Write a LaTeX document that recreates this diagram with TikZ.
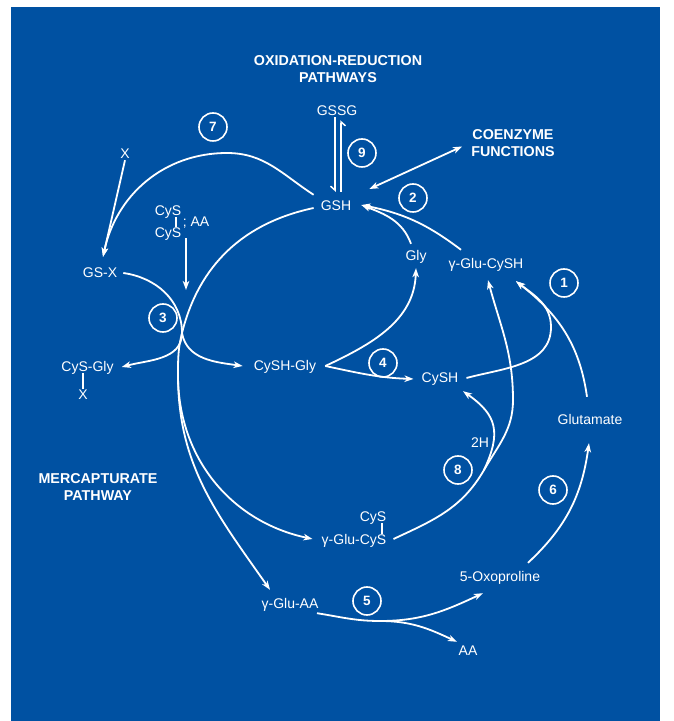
\documentclass[tikz,border=0pt]{standalone}
\usepackage{fontspec}
\setmainfont{Liberation Sans}
\usetikzlibrary{arrows.meta}
\definecolor{panelblue}{RGB}{0,81,162}
\tikzset{
  lab/.style={text=white,font=\fontsize{14}{16}\selectfont,inner sep=1pt,text height=10pt,text depth=0pt},
  head/.style={text=white,font=\fontsize{14.3}{17}\selectfont\bfseries,align=center,inner sep=1pt},
  num/.style={circle,draw=white,line width=1.6pt,minimum size=28pt,inner sep=0pt,text=white,font=\fontsize{13.5}{14}\selectfont\bfseries},
  flow/.style={draw=white,line width=1.8pt,->},
  redox/.style={draw=white,line width=1.5pt,-{Straight Barb[right,length=4pt,width=9pt]}},
  bond/.style={draw=white,line width=1.3pt}
}
\begin{document}
\begin{tikzpicture}[x=1pt,y=1pt,>={Stealth[length=9pt,width=6.5pt,inset=2.5pt]}]
    \useasboundingbox (0,0) rectangle (673,721);
    \fill[panelblue] (11,0) rectangle (660,714);
    \node[head] (oxred) at (338,651.5) {OXIDATION-REDUCTION\\PATHWAYS};
    \node[head] (coenz) at (513,577.5) {COENZYME\\FUNCTIONS};
    \node[head] (merc) at (98,234) {MERCAPTURATE\\PATHWAY};
    \node[lab] (gssg) at (337,610) {GSSG};
    \node[lab] (gsh) at (336,515) {GSH};
    \node[lab] (xtop) at (125,567) {X};
    \node[lab] (cysA) at (168,510) {CyS};
    \node[lab] (cysB) at (168,488) {CyS};
    \node[lab] (semiaa) at (196,499) {; AA};
    \node[lab] (gsx) at (100,448) {GS-X};
    \node[lab] (csg) at (87.5,354) {CyS-Gly};
    \node[lab] (xbot) at (83,326) {X};
    \node[lab] (cshg) at (285,355) {CySH-Gly};
    \node[lab] (gly) at (416,465) {Gly};
    \node[lab] (gcysh) at (486,457) {γ-Glu-CySH};
    \node[lab] (cysh) at (440,343) {CySH};
    \node[lab] (glu) at (590,301) {Glutamate};
    \node[lab] (twoh) at (480,278) {2H};
    \node[lab] (cysC) at (373,204) {CyS};
    \node[lab] (gcys) at (354,181) {γ-Glu-CyS};
    \node[lab] (oxo) at (500,144) {5-Oxoproline};
    \node[lab] (gaa) at (290,117) {γ-Glu-AA};
    \node[lab] (aa) at (468,70) {AA};
    \node[num] (n7) at (213,594) {7};
    \node[num] (n9) at (362,568) {9};
    \node[num] (n2) at (413,523) {2};
    \node[num] (n1) at (564,438) {1};
    \node[num] (n3) at (163,403) {3};
    \node[num] (n4) at (383,358) {4};
    \node[num] (n8) at (458,251) {8};
    \node[num] (n6) at (553,231) {6};
    \node[num] (n5) at (367,120) {5};
    \coordinate (top7) at (227,568);
    \coordinate (tch) at (182,388);
    \coordinate (lft) at (178,346);
    \coordinate (cysin) at (186,431);
    \coordinate (bulge1) at (551,394);
    \coordinate (spl8) at (484,251);
    \coordinate (rgt8) at (513,321);
    \coordinate (spl5) at (380,100);
    \draw[bond] ([xshift=8pt]cysA.south) -- ([xshift=8pt]cysB.north);
    \draw[bond] ([xshift=-4.5pt]csg.south) -- (xbot.north);
    \draw[bond] ([xshift=9pt]cysC.south) -- ([xshift=28pt]gcys.north);
    \draw[redox] ([xshift=-2pt]gssg.south) -- ([shift={(-1pt,8pt)}]gsh.north);
    \draw[redox] ([shift={(5pt,8pt)}]gsh.north) -- ([shift={(4pt,-3pt)}]gssg.south);
    \draw[flow,<->] ([shift={(17pt,17pt)}]gsh.east) -- ([shift={(-8pt,-3pt)}]coenz.west);
    \draw[flow] ([shift={(-6pt,5pt)}]gsh.north west) to[out=147,in=0] (top7) to[out=180,in=78] ([shift={(3pt,10pt)}]gsx.north);
    \draw[flow] (xtop.south) -- ([shift={(3pt,10pt)}]gsx.north);
    \draw[flow] ([shift={(18pt,1pt)}]cysB.south) -- (cysin);
    \draw[flow] ([xshift=5pt]gsx.east) to[out=-8,in=90] (tch) to[out=-90,in=15] ([xshift=7pt]csg.east);
    \draw[flow] ([shift={(-6pt,-2pt)}]gsh.west) to[out=192,in=76] (tch) to[out=-104,in=90] (lft) to[out=-90,in=168] ([shift={(-8pt,1pt)}]gcys.west);
    \draw[flow] (tch) to[out=-80,in=172] ([xshift=-10pt]cshg.west);
    \draw[flow] (lft) to[out=-90,in=125] ([shift={(-20pt,8pt)}]gaa.north);
    \draw[flow] ([shift={(-5pt,6pt)}]gly.north) to[out=110,in=-21] ([shift={(9pt,1pt)}]gsh.east);
    \draw[flow] ([shift={(-25pt,8pt)}]gcysh.north) to[bend right=13] ([shift={(9pt,1pt)}]gsh.east);
    \draw[flow] ([xshift=8pt]cshg.east) to[out=25,in=-92] ([yshift=-6pt]gly.south);
    \draw[flow] ([xshift=8pt]cshg.east) to[out=-12,in=178] ([shift={(-7pt,-1pt)}]cysh.west);
    \draw[flow] ([xshift=7pt]cysh.east) to[out=15,in=-90] (bulge1) to[out=90,in=-38] ([shift={(30pt,-11pt)}]gcysh.south);
    \draw[flow] ([shift={(-3pt,17pt)}]glu.north) to[out=98,in=-38] ([shift={(30pt,-11pt)}]gcysh.south);
    \draw[flow] ([shift={(6pt,1pt)}]gcys.east) to[out=25,in=240] (spl8) to[out=60,in=-90] (rgt8) to[out=90,in=-75] ([shift={(2pt,-10pt)}]gcysh.south);
    \draw[flow] (spl8) to[out=65,in=-35,looseness=1.3] ([shift={(23pt,-7pt)}]cysh.south);
    \draw[flow] ([shift={(28pt,8pt)}]oxo.north) to[out=43,in=-98] ([shift={(-1pt,-17pt)}]glu.south);
    \draw[flow] ([shift={(27pt,-3pt)}]gaa.south) to[out=-9,in=180] (spl5) to[out=0,in=205] ([shift={(-17pt,-10pt)}]oxo.south);
    \draw[flow] (spl5) to[out=0,in=155] ([shift={(-11pt,3pt)}]aa.north);
  \end{tikzpicture}
\end{document}
